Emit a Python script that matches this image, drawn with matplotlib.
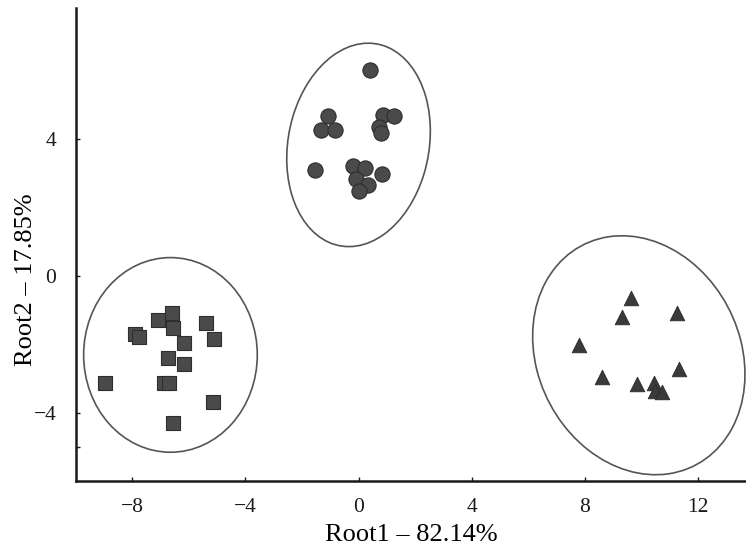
import matplotlib.pyplot as plt
from matplotlib.patches import Ellipse

plt.rcParams['font.family'] = ['Liberation Serif', 'DejaVu Serif']

# group 1 - circles
circ_x = [0.41, -1.09, -1.32, -0.83, 0.86, 1.24, 0.72, 0.79, -1.53, -0.18, 0.22, 0.84, -0.10, 0.34, 0.00]
circ_y = [6.02, 4.68, 4.29, 4.27, 4.73, 4.68, 4.37, 4.19, 3.10, 3.22, 3.15, 2.98, 2.85, 2.66, 2.49]

# group 2 - squares
sq_x = [-6.61, -7.10, -6.55, -7.90, -7.75, -5.38, -5.10, -6.18, -6.73, -6.18, -8.96, -6.87, -6.69, -5.14, -6.55]
sq_y = [-1.09, -1.30, -1.51, -1.69, -1.78, -1.38, -1.85, -1.97, -2.41, -2.58, -3.14, -3.12, -3.14, -3.68, -4.29]

# group 3 - triangles
tri_x = [9.65, 9.32, 11.27, 7.81, 11.33, 8.61, 9.84, 10.45, 10.50, 10.74]
tri_y = [-0.63, -1.20, -1.07, -2.02, -2.73, -2.97, -3.17, -3.12, -3.38, -3.41]

# confidence ellipses: center x, center y, width, height, angle
ellipses = [
    (0.0, 3.84, 6.08, 4.93, 70),
    (-6.65, -2.31, 6.14, 5.70, 0),
    (9.91, -2.32, 7.86, 6.6, -33),
]

fig = plt.figure(figsize=(7.46, 5.49), dpi=100)
ax = fig.add_axes([0.1015, 0.124, 0.8985, 0.8615])

face = '#4a4a4a'
edge = '#2e2e2e'
ax.scatter(circ_x, circ_y, marker='o', s=120, c=face, edgecolors=edge, linewidths=0.8, zorder=3)
ax.scatter(sq_x, sq_y, marker='s', s=95, c=face, edgecolors=edge, linewidths=0.8, zorder=3)
ax.scatter(tri_x, tri_y, marker='^', s=110, c='#3a3a3a', edgecolors='#2a2a2a', linewidths=0.6, zorder=3)

for cx, cy, w, h, ang in ellipses:
    ax.add_patch(Ellipse((cx, cy), w, h, angle=ang, fill=False, edgecolor='#555555', linewidth=1.2, zorder=2))

ax.set_xlim(-10, 13.7)
ax.set_ylim(-6, 7.85)
ax.set_xticks([-8, -4, 0, 4, 8, 12])
ax.set_xticklabels(['\u22128', '\u22124', '0', '4', '8', '12'])
ax.set_yticks([-5, -4, 0, 4])
ax.set_yticklabels(['', '\u22124', '0', '4'])

for s in ['top', 'right']:
    ax.spines[s].set_visible(False)
for s in ['left', 'bottom']:
    ax.spines[s].set_linewidth(1.8)
    ax.spines[s].set_color('#1a1a1a')

ax.tick_params(direction='in', length=3, width=1, labelsize=15.5, pad=12, colors='#1a1a1a')
ax.tick_params(axis='y', pad=14)

ax.set_xlabel('Root1 \u2013 82.14%', fontsize=19, labelpad=5)
ax.set_ylabel('Root2 \u2013 17.85%', fontsize=19)
ax.yaxis.set_label_coords(-0.058, 0.425)

fig.savefig('out.png', dpi=100)
